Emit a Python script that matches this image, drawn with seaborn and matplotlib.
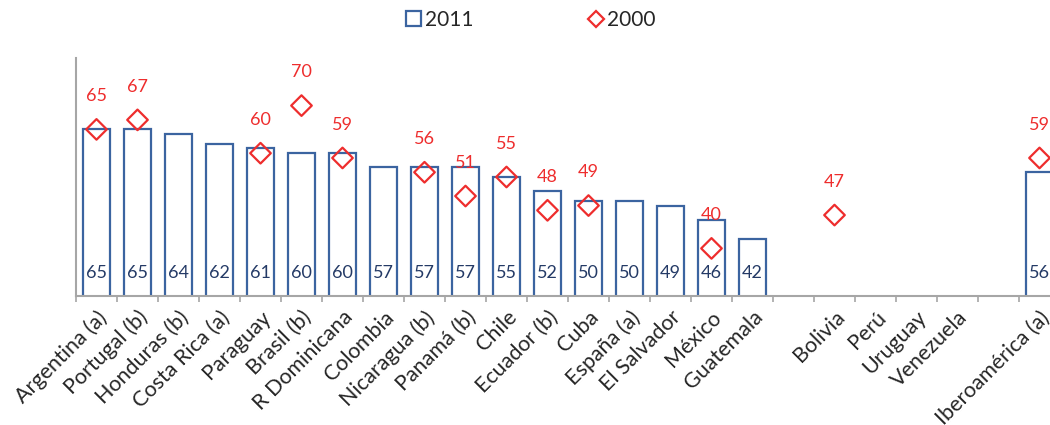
import numpy as np
import pandas as pd
import matplotlib
matplotlib.use("Agg")
import matplotlib.pyplot as plt
import seaborn as sns
from matplotlib.patches import Patch
from matplotlib.lines import Line2D

categories = ["Argentina (a)", "Portugal (b)", "Honduras (b)", "Costa Rica (a)", "Paraguay",
              "Brasil (b)", "R Dominicana", "Colombia", "Nicaragua (b)", "Panamá (b)", "Chile",
              "Ecuador (b)", "Cuba", "España (a)", "El Salvador", "México", "Guatemala", " ",
              "Bolivia", "Perú", "Uruguay", "Venezuela", "  ", "Iberoamérica (a)"]
values_2011 = [65, 65, 64, 62, 61, 60, 60, 57, 57, 57, 55, 52, 50, 50, 49, 46, 42, np.nan,
               np.nan, np.nan, np.nan, np.nan, np.nan, 56]
values_2000 = [65, 67, np.nan, np.nan, 60, 70, 59, np.nan, 56, 51, 55, 48, 49, np.nan, np.nan,
               40, np.nan, np.nan, 47, np.nan, np.nan, np.nan, np.nan, 59]
series_names = ["2011", "2000"]

sns.set_theme(style="white")
plt.rcParams["font.family"] = ["Lato", "DejaVu Sans"]

BLUE = "#3B64A0"
RED = "#EE2D2D"
NAVY = "#243A66"
GRAY = "#A6A6A6"

df = pd.DataFrame({"cat": categories, "v2011": values_2011, "v2000": values_2000})
df["pos"] = np.arange(len(df))

fig = plt.figure(figsize=(10.5, 4.25), dpi=100)
ax = fig.add_axes([76 / 1050, 1 - 296 / 425, 984 / 1050, (296 - 58) / 425])

sns.barplot(data=df, x="cat", y="v2011", order=categories, color="white",
            edgecolor=BLUE, linewidth=1.6, width=0.68, ax=ax, saturation=1)
sns.scatterplot(data=df.dropna(subset=["v2000"]), x="pos", y="v2000", marker="D", s=110,
                facecolors="none", edgecolor=RED, linewidth=1.6, ax=ax, zorder=5)

ax.set_ylim(30, 80)
ax.set_xlim(-0.5, len(categories) - 0.5)

for i, v in enumerate(values_2011):
    if not np.isnan(v):
        ax.text(i, 34.9, f"{v:.0f}", ha="center", va="center", color=NAVY, fontsize=13)
for i, v in enumerate(values_2000):
    if not np.isnan(v):
        ax.annotate(f"{v:.0f}", (i, v), xytext=(0, 24), textcoords="offset points",
                    ha="center", va="center", color=RED, fontsize=13)

ax.set_xlabel("")
ax.set_ylabel("")
ax.set_yticks([])
ax.set_xticks(np.arange(len(categories)))
ax.set_xticklabels(categories, rotation=45, ha="right", rotation_mode="anchor", fontsize=15.5)
ax.set_xticks(np.arange(len(categories) + 1) - 0.5, minor=True)
ax.tick_params(axis="x", which="major", length=0, pad=8)
ax.tick_params(axis="x", which="minor", length=4.5, width=1.2, color=GRAY, direction="out", bottom=True)
for s in ["top", "right"]:
    ax.spines[s].set_visible(False)
for s in ["left", "bottom"]:
    ax.spines[s].set_color(GRAY)
    ax.spines[s].set_linewidth(1.5)

handles = [Patch(facecolor="white", edgecolor=BLUE, linewidth=1.6),
           Line2D([], [], marker="D", markersize=8, markerfacecolor="none",
                  markeredgecolor=RED, markeredgewidth=1.6, linestyle="none")]
fig.legend(handles, series_names, loc="center", bbox_to_anchor=(531 / 1050, 1 - 20 / 425),
           ncol=2, frameon=False, fontsize=15, handlelength=0.7, handleheight=0.7,
           handletextpad=0.2, columnspacing=5.5)

fig.savefig("out.png", dpi=100)
